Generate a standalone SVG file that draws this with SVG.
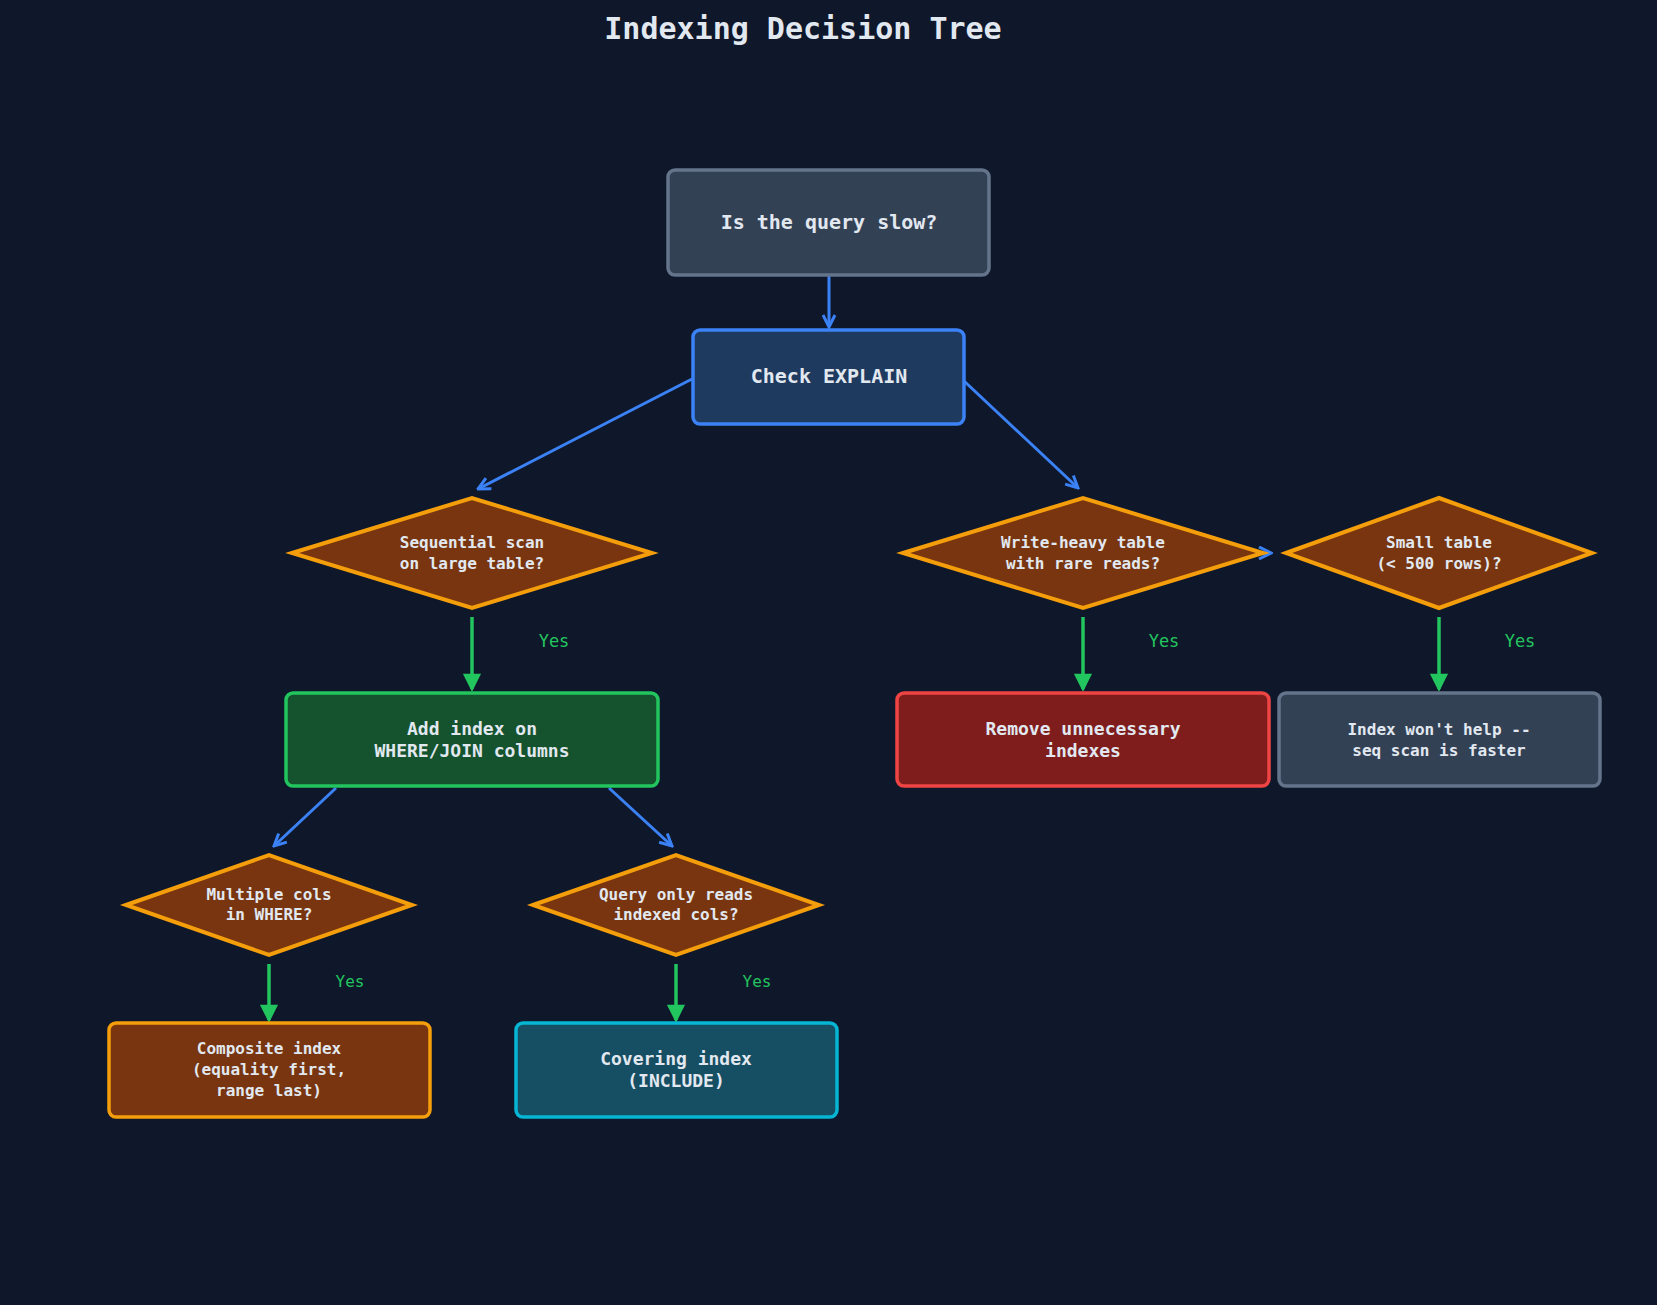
<svg xmlns="http://www.w3.org/2000/svg" width="1657" height="1305" viewBox="0 0 1657 1305">
<defs>
<marker id="ab" viewBox="0 0 10 10" refX="9" refY="5" markerWidth="5" markerHeight="5" orient="auto"><path d="M1,1 L9,5 L1,9" fill="none" stroke="#3b82f6" stroke-width="2"/></marker>
<marker id="ag" viewBox="0 0 10 10" refX="9" refY="5" markerWidth="5" markerHeight="5" orient="auto"><path d="M1,1 L9,5 L1,9 Z" fill="#22c55e" stroke="#22c55e" stroke-width="1.5"/></marker>
</defs>
<style>
text{font-family:"DejaVu Sans Mono","Liberation Mono",monospace;fill:#e2e8f0;text-anchor:middle;font-weight:bold}
.dia{fill:#78350f;stroke:#f59e0b;stroke-width:4}
.b{stroke-width:3.5}
.blue{stroke:#3b82f6;stroke-width:3;fill:none}
.grn{stroke:#22c55e;stroke-width:3.5;fill:none}
.yes{fill:#22c55e;font-weight:normal;font-size:17px}
</style>
<rect width="1657" height="1305" fill="#0f172a"/>
<text x="803" y="39" font-size="30">Indexing Decision Tree</text>
<g id="connectors">
<line class="blue" x1="829" y1="276" x2="829" y2="327" marker-end="url(#ab)"/>
<line class="blue" x1="692" y1="379" x2="478" y2="489" marker-end="url(#ab)"/>
<line class="blue" x1="964" y1="381" x2="1078" y2="488" marker-end="url(#ab)"/>
<line class="blue" x1="1258" y1="553" x2="1271" y2="553" marker-end="url(#ab)"/>
<line class="grn" x1="472" y1="617" x2="472" y2="689" marker-end="url(#ag)"/>
<line class="grn" x1="1083" y1="617" x2="1083" y2="689" marker-end="url(#ag)"/>
<line class="grn" x1="1439" y1="617" x2="1439" y2="689" marker-end="url(#ag)"/>
<line class="blue" x1="336" y1="788" x2="274" y2="846" marker-end="url(#ab)"/>
<line class="blue" x1="609" y1="788" x2="672" y2="846" marker-end="url(#ab)"/>
<line class="grn" x1="269" y1="964" x2="269" y2="1020" marker-end="url(#ag)"/>
<line class="grn" x1="676" y1="964" x2="676" y2="1020" marker-end="url(#ag)"/>
<text class="yes" x="554" y="647">Yes</text>
<text class="yes" x="1164" y="647">Yes</text>
<text class="yes" x="1520" y="647">Yes</text>
<text class="yes" x="350" y="987" style="font-size:16px">Yes</text>
<text class="yes" x="757" y="987" style="font-size:16px">Yes</text>
</g>
<g id="n1"><rect class="b" x="668" y="170" width="321" height="105" rx="7" fill="#334155" stroke="#64748b"/><text x="829" y="229" font-size="20">Is the query slow?</text></g>
<g id="n2"><rect class="b" x="693" y="330" width="271" height="94" rx="7" fill="#1e3a5f" stroke="#3b82f6"/><text x="829" y="383" font-size="20">Check EXPLAIN</text></g>
<g id="d1"><polygon class="dia" points="292,553 472,498 652,553 472,608"/><text x="472" y="548" font-size="16">Sequential scan</text><text x="472" y="569" font-size="16">on large table?</text></g>
<g id="d2"><polygon class="dia" points="903,553 1083,498 1263,553 1083,608"/><text x="1083" y="548" font-size="16">Write-heavy table</text><text x="1083" y="569" font-size="16">with rare reads?</text></g>
<g id="d3"><polygon class="dia" points="1286,553 1439,498 1592,553 1439,608"/><text x="1439" y="548" font-size="16">Small table</text><text x="1439" y="569" font-size="16">(&lt; 500 rows)?</text></g>
<g id="n3"><rect class="b" x="286" y="693" width="372" height="93" rx="7" fill="#15532e" stroke="#22c55e"/><text x="472" y="735" font-size="18">Add index on</text><text x="472" y="757" font-size="18">WHERE/JOIN columns</text></g>
<g id="n4"><rect class="b" x="897" y="693" width="372" height="93" rx="7" fill="#7f1d1d" stroke="#ef4444"/><text x="1083" y="735" font-size="18">Remove unnecessary</text><text x="1083" y="757" font-size="18">indexes</text></g>
<g id="n5"><rect class="b" x="1279" y="693" width="321" height="93" rx="7" fill="#334155" stroke="#64748b"/><text x="1439" y="735" font-size="16">Index won't help --</text><text x="1439" y="756" font-size="16">seq scan is faster</text></g>
<g id="d4"><polygon class="dia" points="126,905 269,855 412,905 269,955"/><text x="269" y="900" font-size="16">Multiple cols</text><text x="269" y="920" font-size="16">in WHERE?</text></g>
<g id="d5"><polygon class="dia" points="533,905 676,855 819,905 676,955"/><text x="676" y="900" font-size="16">Query only reads</text><text x="676" y="920" font-size="16">indexed cols?</text></g>
<g id="n6"><rect class="b" x="109" y="1023" width="321" height="94" rx="7" fill="#78350f" stroke="#f59e0b"/><text x="269" y="1054" font-size="16">Composite index</text><text x="269" y="1075" font-size="16">(equality first,</text><text x="269" y="1096" font-size="16">range last)</text></g>
<g id="n7"><rect class="b" x="516" y="1023" width="321" height="94" rx="7" fill="#164e63" stroke="#06b6d4"/><text x="676" y="1065" font-size="18">Covering index</text><text x="676" y="1087" font-size="18">(INCLUDE)</text></g>
</svg>
